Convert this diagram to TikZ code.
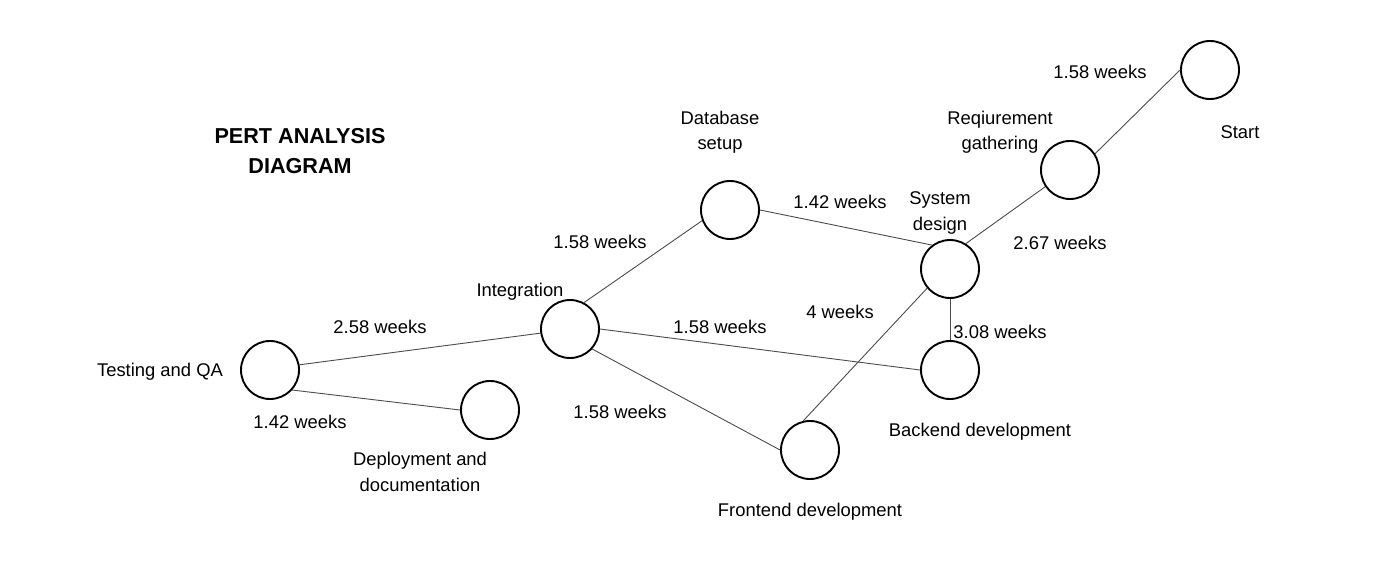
\documentclass[tikz,border=0pt]{standalone}
\usepackage{fontspec}
\setmainfont{Liberation Sans}
\begin{document}
\begin{tikzpicture}[x=1pt,y=-1pt,
  evt/.style={circle,draw=black,line width=1.9pt,minimum size=58pt,inner sep=0pt,fill=white},
  lbl/.style={font=\fontsize{18.4}{25.5}\selectfont,align=center,inner sep=0pt,yshift=-2pt},
  ttl/.style={font=\fontsize{21.6}{30}\selectfont\bfseries,align=center,inner sep=0pt},
  conn/.style={draw=black!70,line width=0.9pt}]
\useasboundingbox[fill=white] (0,0) rectangle (1400,580);
% events
\node[evt] (start) at (1210,70) {};
\node[evt] (req) at (1070,170) {};
\node[evt] (sys) at (950,269) {};
\node[evt] (back) at (950,370) {};
\node[evt] (front) at (810,450) {};
\node[evt] (db) at (730,210) {};
\node[evt] (int) at (570,329) {};
\node[evt] (test) at (270,370) {};
\node[evt] (dep) at (490,410) {};
% connectors
\draw[conn] (start.west) -- (req.33);
\draw[conn] (req.214) -- (sys.58);
\draw[conn] (db.east) -- (sys.127);
\draw[conn] (int.62) -- (db.201);
\draw[conn] (int.east) -- (back.west);
\draw[conn] (int.318) -- (front.west);
\draw[conn] (front.103) -- (sys.220);
\draw[conn] (sys.south) -- (back.north);
\draw[conn] (test.10) -- (int.188);
\draw[conn] (test.318) -- (dep.west);
% title
\node[ttl] (title) at (300,151) {PERT ANALYSIS\\DIAGRAM};
% event labels
\node[lbl] (tstart) at (1240,130) {Start};
\node[lbl] (treq) at (1000,130) {Reqiurement\\gathering};
\node[lbl] (tsys) at (940,211) {System\\design};
\node[lbl] (tdb) at (720,130) {Database\\setup};
\node[lbl] (tint) at (520,290) {Integration};
\node[lbl] (tback) at (980,430) {Backend development};
\node[lbl] (tfront) at (810,510) {Frontend development};
\node[lbl] (ttest) at (160,370) {Testing and QA};
\node[lbl] (tdep) at (420,470) {Deployment and\\documentation};
% durations
\node[lbl] (d1) at (1100,70) {1.58 weeks};
\node[lbl] (d2) at (1060,241) {2.67 weeks};
\node[lbl] (d3) at (840,200) {1.42 weeks};
\node[lbl] (d4) at (600,240) {1.58 weeks};
\node[lbl] (d5) at (840,310) {4 weeks};
\node[lbl] (d6) at (720,325) {1.58 weeks};
\node[lbl] (d7) at (1000,330) {3.08 weeks};
\node[lbl] (d8) at (620,410) {1.58 weeks};
\node[lbl] (d9) at (380,325) {2.58 weeks};
\node[lbl] (d10) at (300,420) {1.42 weeks};
\end{tikzpicture}
\end{document}
